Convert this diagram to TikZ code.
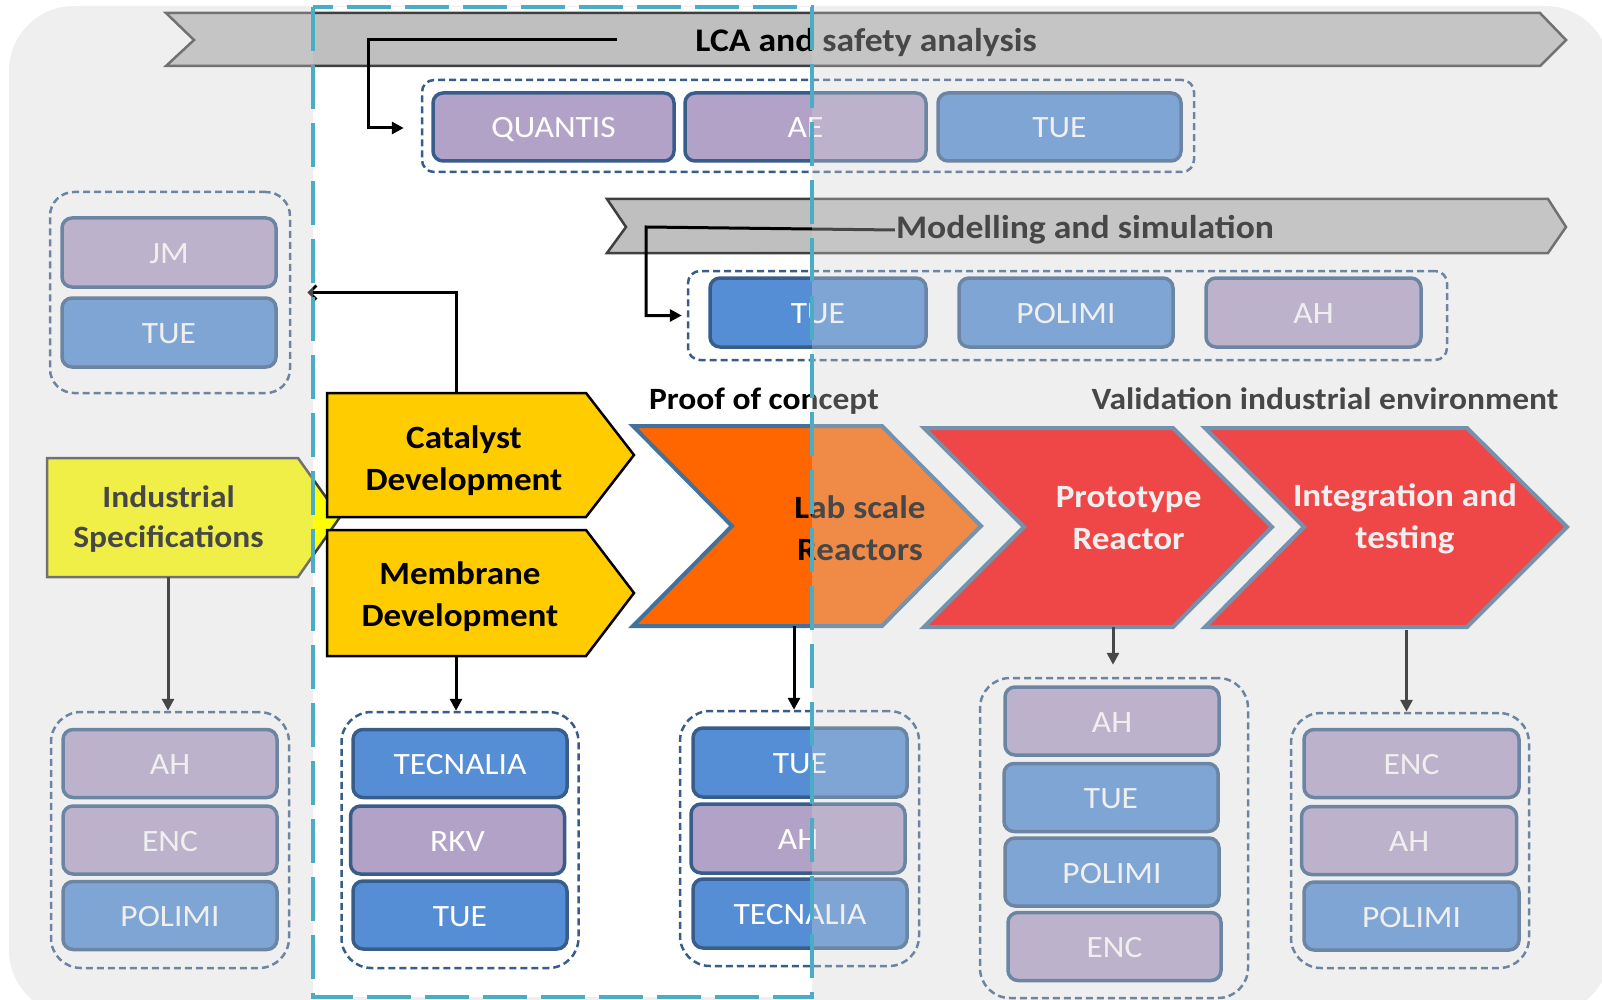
\documentclass[tikz,border=0pt]{standalone}
\usepackage{fontspec}
\setmainfont{Carlito}[FakeStretch=1.08]
\usetikzlibrary{arrows.meta}
\definecolor{pboxc}{HTML}{B3A2C7}
\definecolor{bboxc}{HTML}{558ED5}
\definecolor{bordc}{HTML}{385D8A}
\definecolor{bannc}{HTML}{BFBFBF}
\definecolor{bannd}{HTML}{3F3F3F}
\definecolor{catc}{HTML}{FFCC00}
\definecolor{indc}{HTML}{FFFF00}
\definecolor{labc}{HTML}{FF6600}
\definecolor{redc}{HTML}{FF0000}
\definecolor{chevd}{HTML}{41719C}
\definecolor{tealc}{HTML}{4BACC6}
\definecolor{ovlc}{RGB}{211,211,211}
\tikzset{
  boxbase/.style={draw=bordc, line width=3.5pt, rounded corners=10pt, text=white,
    font=\fontsize{31}{31}\selectfont, inner sep=0pt, minimum height=68pt,
    text height=22pt, text depth=0pt},
  pbox/.style={boxbase, fill=pboxc},
  bbox/.style={boxbase, fill=bboxc},
  grp/.style={draw=bordc, line width=2.5pt, dash pattern=on 7pt off 4pt, inner sep=0pt},
  conn/.style={line width=3pt, -{Triangle[length=12pt,width=12pt]}},
  bannerpath/.style={fill=bannc, draw=bannd, line width=2.5pt, line join=miter},
  bannertext/.style={font=\bfseries\fontsize{33}{33}\selectfont, inner sep=1pt, yshift=-3pt},
  chevtext/.style={font=\bfseries\fontsize{32.5}{42}\selectfont, align=center, yshift=-3pt},
  phasetext/.style={font=\bfseries\fontsize{31}{31}\selectfont, yshift=-3pt},
  chevpath/.style={draw=chevd, line width=4pt, line join=miter},
}
\begin{document}
\begin{tikzpicture}[x=1pt,y=-1pt]
\useasboundingbox (0,0) rectangle (1602,1000);
\fill[white] (0,0) rectangle (1602,1000);

% banners
\draw[bannerpath] (166,13) -- (1540,13) -- (1566,40) -- (1540,66) -- (166,66) -- (194,40) -- cycle;
\draw[bannerpath] (607,199) -- (1548,199) -- (1566,227) -- (1548,253) -- (607,253) -- (626,227) -- cycle;
\node[bannertext] (lcaText) at (866,40) {LCA and safety analysis};
\node[bannertext] (msText) at (1085,227) {Modelling and simulation};

% groups
\node[grp, rounded corners=12pt, minimum width=772pt, minimum height=92pt] (lcagrp) at (808,126) {};
\node[grp, rounded corners=12pt, minimum width=759pt, minimum height=89pt] (msgrp) at (1067.5,315.5) {};
\node[grp, rounded corners=24pt, minimum width=240pt, minimum height=201pt] (jmgrp) at (170,292.5) {};
\node[grp, rounded corners=30pt, minimum width=238pt, minimum height=256pt] (indgrp) at (170,840) {};
\node[grp, rounded corners=30pt, minimum width=237pt, minimum height=256pt] (memgrp) at (460,840) {};
\node[grp, rounded corners=30pt, minimum width=239pt, minimum height=255pt] (labgrp) at (799.5,838.5) {};
\node[grp, rounded corners=30pt, minimum width=268pt, minimum height=320pt] (protogrp) at (1114,838) {};
\node[grp, rounded corners=30pt, minimum width=238pt, minimum height=255pt] (intgrp) at (1410,840.5) {};

% boxes
\node[pbox, minimum width=241pt] (lca1) at (553.5,127) {QUANTIS};
\node[pbox, minimum width=241pt] (lca2) at (805.5,127) {AE};
\node[bbox, minimum width=243pt] (lca3) at (1059.5,127) {TUE};

\node[bbox, minimum width=216pt, minimum height=69pt] (ms1) at (818,312.5) {TUE};
\node[bbox, minimum width=214pt, minimum height=69pt] (ms2) at (1066,312.5) {POLIMI};
\node[pbox, minimum width=215pt, minimum height=69pt] (ms3) at (1313.5,312.5) {AH};

\node[pbox, minimum width=214pt, minimum height=69pt] (jm1) at (169,252.5) {JM};
\node[bbox, minimum width=214pt, minimum height=69pt] (jm2) at (169,332.5) {TUE};

\node[pbox, minimum width=214pt] (ind1) at (170,763.5) {AH};
\node[pbox, minimum width=214pt] (ind2) at (170,840) {ENC};
\node[bbox, minimum width=214pt] (ind3) at (170,915.5) {POLIMI};

\node[bbox, minimum width=214pt] (mem1) at (460,763.5) {TECNALIA};
\node[pbox, minimum width=214pt] (mem2) at (457.5,840) {RKV};
\node[bbox, minimum width=214pt] (mem3) at (460,915) {TUE};

\node[bbox, minimum width=214pt, minimum height=69pt] (lab1) at (800,762.5) {TUE};
\node[pbox, minimum width=214pt, minimum height=69pt] (lab2) at (798,838.5) {AH};
\node[bbox, minimum width=214pt, minimum height=69pt] (lab3) at (800,913.5) {TECNALIA};

\node[pbox, minimum width=214pt] (pr1) at (1112,721) {AH};
\node[bbox, minimum width=214pt] (pr2) at (1111,797.5) {TUE};
\node[bbox, minimum width=214pt] (pr3) at (1112,872) {POLIMI};
\node[pbox, minimum width=213pt] (pr4) at (1114.5,946.5) {ENC};

\node[pbox, minimum width=215pt] (in1) at (1411.5,763.5) {ENC};
\node[pbox, minimum width=215pt] (in2) at (1409,840.5) {AH};
\node[bbox, minimum width=215pt] (in3) at (1411.5,916) {POLIMI};

% chevrons
\draw[fill=indc, draw=bannd, line width=2.5pt, line join=miter] (47,458) -- (298,458) -- (340,517) -- (298,577) -- (47,577) -- cycle;
\draw[fill=catc, draw=black, line width=2.5pt, line join=miter] (327,393) -- (586,393) -- (634,455) -- (586,517) -- (327,517) -- cycle;
\draw[fill=catc, draw=black, line width=2.5pt, line join=miter] (327,530) -- (586,530) -- (634,593) -- (586,656) -- (327,656) -- cycle;
\draw[chevpath, fill=labc] (633,426) -- (882,426) -- (981,526) -- (882,626) -- (633,626) -- (732,526) -- cycle;
\draw[chevpath, fill=redc] (924,428) -- (1173,428) -- (1272,527) -- (1173,627) -- (924,627) -- (1024,527) -- cycle;
\draw[chevpath, fill=redc] (1205,428) -- (1467,428) -- (1567,527) -- (1467,627) -- (1205,627) -- (1304,527) -- cycle;

\node[chevtext, font=\bfseries\fontsize{31}{40}\selectfont] (indText) at (168.6,516) {Industrial\\Specifications};
\node[chevtext] (catText) at (464,457.5) {Catalyst\\Development};
\node[chevtext] (memText) at (460,593.5) {Membrane\\Development};
\node[chevtext] (labText) at (860,525.5) {Lab scale\\Reactors};
\node[chevtext, text=white] (protoText) at (1128.6,515) {Prototype\\Reactor};
\node[chevtext, text=white] (intText) at (1405,515.5) {Integration and\\testing};

\node[phasetext] (poc) at (764,398) {Proof of concept};
\node[phasetext] (vie) at (1325,396) {Validation industrial environment};

% connectors
\coordinate (lcaStart) at (617,40);
\coordinate (lcaBend) at (368,40);
\draw[conn] (lcaStart) -- (lcaBend) |- ([xshift=-17pt,yshift=-2pt]lcagrp.west);
\coordinate (msBend) at (646,227);
\draw[conn] (msText.west) -- (msBend) |- ([xshift=-5pt]msgrp.west);
\coordinate (catTop) at (456,393);
\draw[line width=3pt, -{Straight Barb[length=7pt,width=14pt,line width=3pt]}] (catTop) |- ([xshift=16pt]jmgrp.east);
\coordinate (indBot) at (168,577);
\draw[conn] (indBot) -- (indBot |- indgrp.north);
\coordinate (memBot) at (456,656);
\draw[conn] (memBot) -- (memBot |- memgrp.north);
\coordinate (labBot) at (794,626);
\draw[conn] (labBot) -- (labBot |- labgrp.north);
\coordinate (protoBot) at (1113,627);
\draw[conn] (protoBot) -- ([yshift=12pt]protoBot |- protogrp.north);
\coordinate (intBot) at (1406.5,630);
\draw[conn] (intBot) -- (intBot |- intgrp.north);

% highlight overlay
\fill[ovlc, opacity=0.34, even odd rule] [rounded corners=65pt] (9,6) rectangle (1610,1015) [sharp corners] (313,7) rectangle (812,997);
\draw[tealc, line width=3.5pt, dash pattern=on 44pt off 14pt] (313,7) rectangle (812,997);
\end{tikzpicture}
\end{document}
